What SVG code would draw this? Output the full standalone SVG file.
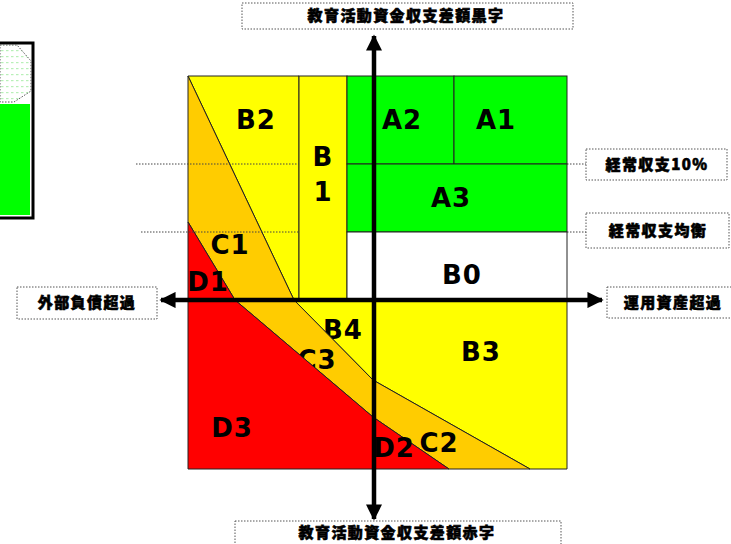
<svg xmlns="http://www.w3.org/2000/svg" width="731" height="544" viewBox="0 0 731 544">
<defs>
<pattern id="dots" x="0" y="0" width="5" height="6" patternUnits="userSpaceOnUse">
<rect x="1" y="2" width="2.5" height="1.2" fill="#b8f0b8"/>
</pattern>
<marker id="ah" viewBox="0 0 10 10" refX="9" refY="5" markerWidth="3.6" markerHeight="3.6" orient="auto-start-reverse" markerUnits="strokeWidth">
<path d="M0,0 L10,5 L0,10 Z" fill="#000"/>
</marker>
<style>
.reg{stroke:#222;stroke-width:1}
.y{fill:#ffff00}
.g{fill:#00ff00}
.o{fill:#ffcc00}
.r{fill:#ff0000}
.w{fill:#ffffff}
.lbl{font-family:"DejaVu Sans","Liberation Sans",sans-serif;font-weight:bold;font-size:26px;fill:#000;text-anchor:middle;letter-spacing:1px}
.box{fill:#fff;stroke:#555;stroke-width:1;stroke-dasharray:1.5,1.5}
.jp{font-family:"Noto Sans CJK JP","Noto Sans CJK SC",sans-serif;font-weight:900;font-size:15px;fill:#000;stroke:#000;stroke-width:0.6;text-anchor:middle;letter-spacing:1.4px}
.dot{stroke:#444;stroke-width:1;stroke-dasharray:1.5,1.5;fill:none}
.axis{stroke:#000;stroke-width:4.5;fill:none}
</style>
</defs>

<g id="legend">
<rect x="-3" y="43" width="36" height="175" fill="#fff" stroke="#000" stroke-width="3"/>
<polygon points="0,45 17,45 31,61 31,91 14,102 0,102" fill="url(#dots)" stroke="#555" stroke-width="1" stroke-dasharray="1.5,1.5"/>
<rect x="0" y="104" width="30" height="111" fill="#00ff00"/>
</g>

<g id="B2"><polygon class="reg y" points="188,76 299,76 299,300 294,300"/><text class="lbl" x="256" y="129">B2</text></g>
<g id="C1"><polygon class="reg o" points="188,76 294,300 235,300 188,222"/><text class="lbl" x="230" y="254">C1</text></g>
<g id="D1"><polygon class="reg r" points="188,222 235,300 188,300"/><text class="lbl" x="208" y="291">D1</text></g>
<g id="B1"><rect class="reg y" x="299" y="76" width="48" height="224"/><text class="lbl" x="323" y="166">B</text><text class="lbl" x="323" y="201">1</text></g>
<g id="A2"><rect class="reg g" x="347" y="76" width="107" height="88"/><text class="lbl" x="402" y="129">A2</text></g>
<g id="A1"><rect class="reg g" x="454" y="76" width="113" height="88"/><text class="lbl" x="496" y="129">A1</text></g>
<g id="A3"><rect class="reg g" x="347" y="164" width="220" height="68"/><text class="lbl" x="451" y="207">A3</text></g>
<g id="B0"><rect class="reg w" x="347" y="232" width="220" height="68"/><text class="lbl" x="462" y="284">B0</text></g>

<g id="B4"><polygon class="reg y" points="294,300 373,300 373,380"/><text class="lbl" x="343" y="339">B4</text></g>
<g id="C3"><polygon class="reg o" points="235,300 294,300 373,380 373,417"/><text class="lbl" x="317" y="369">C3</text></g>
<g id="D3"><polygon class="reg r" points="188,300 235,300 373,417 373,469 188,469"/><text class="lbl" x="232" y="437">D3</text></g>
<g id="B3"><polygon class="reg y" points="373,300 567,300 567,469 530,469 373,380"/><text class="lbl" x="481" y="361">B3</text></g>
<g id="C2"><polygon class="reg o" points="373,380 530,469 449,469 373,417"/><text class="lbl" x="439" y="452">C2</text></g>
<g id="D2"><polygon class="reg r" points="373,417 449,469 373,469"/><text class="lbl" x="394" y="457">D2</text></g>

<g id="label-top"><rect class="box" x="242" y="3" width="331" height="26"/><text class="jp" x="406" y="21">教育活動資金収支差額黒字</text></g>
<g id="label-bottom"><rect class="box" x="235" y="521" width="326" height="30"/><text class="jp" x="397" y="538">教育活動資金収支差額赤字</text></g>
<g id="label-left"><rect class="box" x="17" y="287" width="140" height="32"/><text class="jp" x="87" y="308">外部負債超過</text></g>
<g id="label-10"><rect class="box" x="586" y="149" width="141" height="31"/><text class="jp" x="657" y="170">経常収支10%</text></g>
<g id="label-balance"><rect class="box" x="586" y="213" width="143" height="35"/><text class="jp" x="658" y="236">経常収支均衡</text></g>
<g id="label-right"><rect class="box" x="607" y="287" width="130" height="31"/><text class="jp" x="673" y="308">運用資産超過</text></g>

<g id="connectors">
<line class="dot" x1="136" y1="164" x2="299" y2="164"/>
<line class="dot" x1="141" y1="232" x2="299" y2="232"/>
<line class="dot" x1="567" y1="164" x2="586" y2="164"/>
<line class="dot" x1="567" y1="232" x2="586" y2="232"/>
<line class="axis" x1="374" y1="519" x2="374" y2="36" marker-start="url(#ah)" marker-end="url(#ah)"/>
<line class="axis" x1="161" y1="300" x2="602" y2="300" marker-start="url(#ah)" marker-end="url(#ah)"/>
</g>
</svg>
